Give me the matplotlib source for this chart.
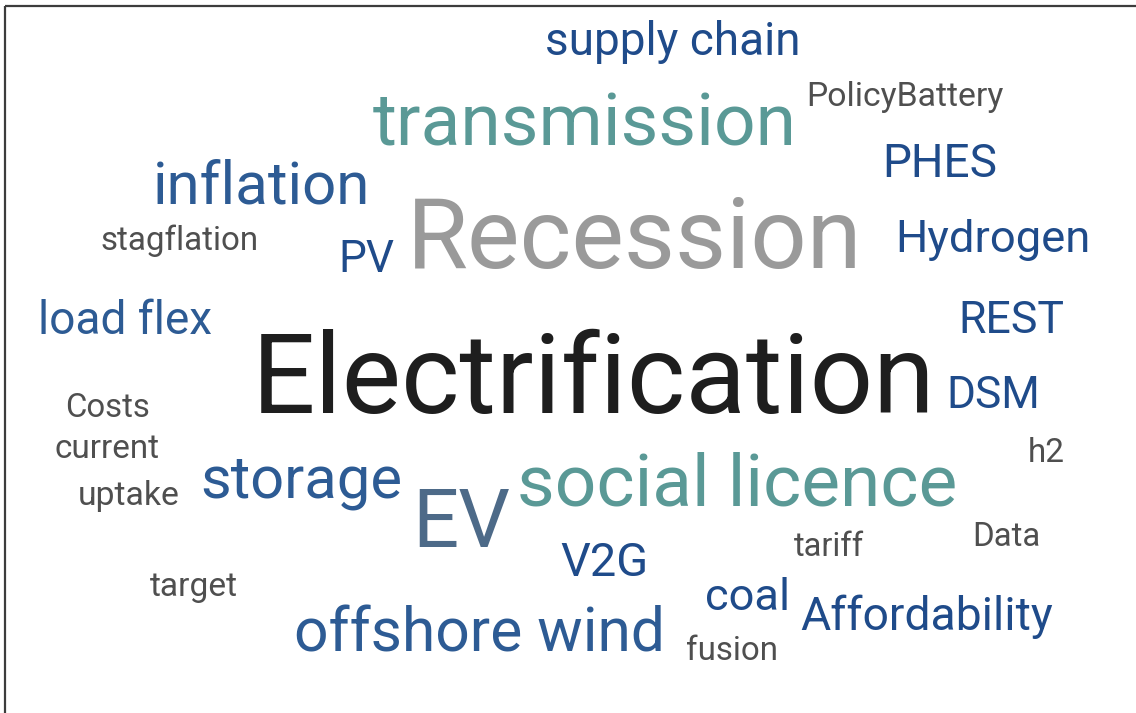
import matplotlib
matplotlib.use('Agg')
import matplotlib.pyplot as plt

# word cloud terms and their colours
words = ['supply chain', 'transmission', 'PolicyBattery', 'PHES', 'inflation',
         'Recession', 'stagflation', 'PV', 'Hydrogen', 'load flex', 'REST',
         'Electrification', 'DSM', 'Costs', 'current', 'h2', 'storage', 'uptake',
         'EV', 'social licence', 'Data', 'tariff', 'V2G', 'target', 'coal',
         'Affordability', 'offshore wind', 'fusion']

NAVY = '#1f4b8a'
BLUE = '#2d5b94'
TEAL = '#5a9996'
GREY = '#4f4f4f'
colors = [NAVY, TEAL, GREY, NAVY, BLUE,
          '#9a9a9a', GREY, NAVY, NAVY, BLUE, NAVY,
          '#1e1e1e', NAVY, GREY, GREY, GREY, BLUE, GREY,
          '#4d6a88', TEAL, GREY, GREY, NAVY, GREY, NAVY,
          NAVY, BLUE, GREY]

# layout in pixels: left edge, right edge, baseline
x_left = [545, 373, 806, 882, 153, 407, 100, 338, 895, 38, 958,
          252, 946, 65, 55, 1028, 200, 78, 412, 517, 972, 794, 560,
          150, 705, 800, 294, 686]
x_right = [800, 797, 1003, 997, 370, 862, 258, 394, 1090, 212, 1064,
           935, 1040, 150, 160, 1065, 402, 180, 510, 957, 1040, 864, 648,
           238, 790, 1052, 665, 778]
baseline = [55, 145, 106, 177, 203, 268, 250, 272, 252, 334, 333,
            413, 408, 417, 458, 462, 497, 505, 547, 505, 546, 556, 576,
            596, 610, 630, 652, 660]

W, H = 1136, 713
fig = plt.figure(figsize=(W / 100, H / 100), dpi=100)
ax = fig.add_axes([0, 0, 1, 1])
ax.set_xlim(0, W)
ax.set_ylim(H, 0)
ax.axis('off')

fig.canvas.draw()
renderer = fig.canvas.get_renderer()

for w, c, x0, x1, y in zip(words, colors, x_left, x_right, baseline):
    t = ax.text(x0, y, w, color=c, fontsize=40, family='Roboto',
                ha='left', va='baseline')
    bb = t.get_window_extent(renderer)
    t.set_fontsize(40 * (x1 - x0) / bb.width)

# frame: top and left edges only
ax.plot([4.5, W], [5.5, 5.5], color='#3c3c3c', lw=1.6, solid_capstyle='butt')
ax.plot([4.5, 4.5], [5.5, H], color='#3c3c3c', lw=1.6, solid_capstyle='butt')

fig.savefig('out.png', dpi=100)
